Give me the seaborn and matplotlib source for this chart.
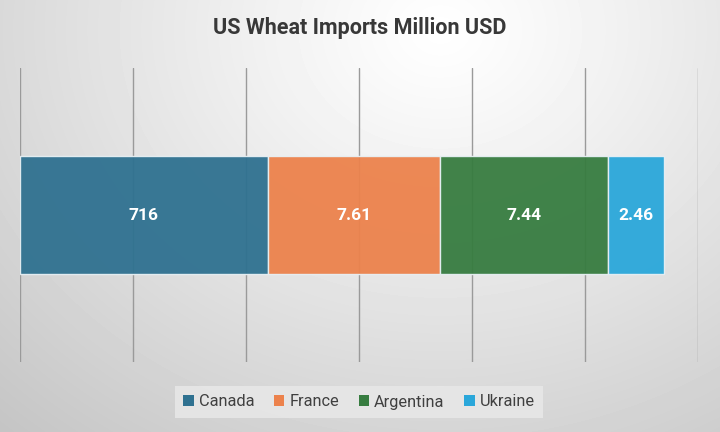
import numpy as np
import pandas as pd
import matplotlib
matplotlib.use("Agg")
import matplotlib.pyplot as plt
import seaborn as sns
from matplotlib.patches import Patch

countries = ["Canada", "France", "Argentina", "Ukraine"]
bar_lengths = [10.97, 7.61, 7.44, 2.46]
value_labels = ["716", "7.61", "7.44", "2.46"]
colors = ["#2f7190", "#ec824c", "#377c40", "#2aa7da"]
title = "US Wheat Imports Million USD"

sns.set_theme(style="white")
plt.rcParams["font.family"] = ["Roboto", "DejaVu Sans"]

fig = plt.figure(figsize=(7.2, 4.32), dpi=100)

# background radial gradient
bg = fig.add_axes([0, 0, 1, 1], zorder=-10)
yy, xx = np.mgrid[0:432, 0:720]
d = np.sqrt(((xx - 440) / 600.0) ** 2 + ((yy - 30) / 500.0) ** 2)
shade = np.clip(1.0 - 0.21 * d ** 1.1, 0.76, 1.0)
bg.imshow(shade, cmap="gray", vmin=0, vmax=1, aspect="auto", extent=[0, 1, 0, 1])
bg.axis("off")

ax = fig.add_axes([20 / 720, 70 / 432, 678 / 720, 294 / 432])
ax.patch.set_alpha(0)

df = pd.DataFrame({"country": countries, "value": bar_lengths, "label": value_labels})
df["left"] = df["value"].cumsum() - df["value"]

for i, row in df.iterrows():
    ax.barh(0, row["value"], left=row["left"], height=0.4, color=colors[i],
            edgecolor="#e8f0f4", linewidth=1.0, alpha=0.95, zorder=2)
    ax.text(row["left"] + row["value"] / 2, 0, row["label"], ha="center", va="center",
            color="white", fontsize=12.5, fontweight="bold", zorder=3)

ax.set_xlim(0, 30)
ax.set_ylim(-0.5, 0.5)
ax.set_xticks(np.arange(0, 31, 5))
ax.set_yticks([])
ax.set_xticklabels([])
ax.grid(axis="x", color="#9a9a9a", linewidth=1.0, zorder=0)
ax.set_axisbelow(True)
for s in ax.spines.values():
    s.set_visible(False)
ax.tick_params(length=0)

fig.text(0.5, 1 - 28 / 432, title, ha="center", va="center", fontsize=15.5,
         fontweight="bold", color="#383838")

handles = [Patch(facecolor=c, edgecolor="none") for c in colors]
leg = fig.legend(handles, countries, loc="center", bbox_to_anchor=(359 / 720, 1 - 402 / 432),
                 ncol=4, frameon=True, fontsize=11.8, handlelength=0.65, handleheight=0.65,
                 handletextpad=0.3, columnspacing=1.2, borderpad=0.5, fancybox=False)
leg.get_frame().set_facecolor("#e8e8e8")
leg.get_frame().set_edgecolor("none")
leg.get_frame().set_alpha(0.85)
for t in leg.get_texts():
    t.set_color("#404040")

fig.savefig("out.png", dpi=100)
